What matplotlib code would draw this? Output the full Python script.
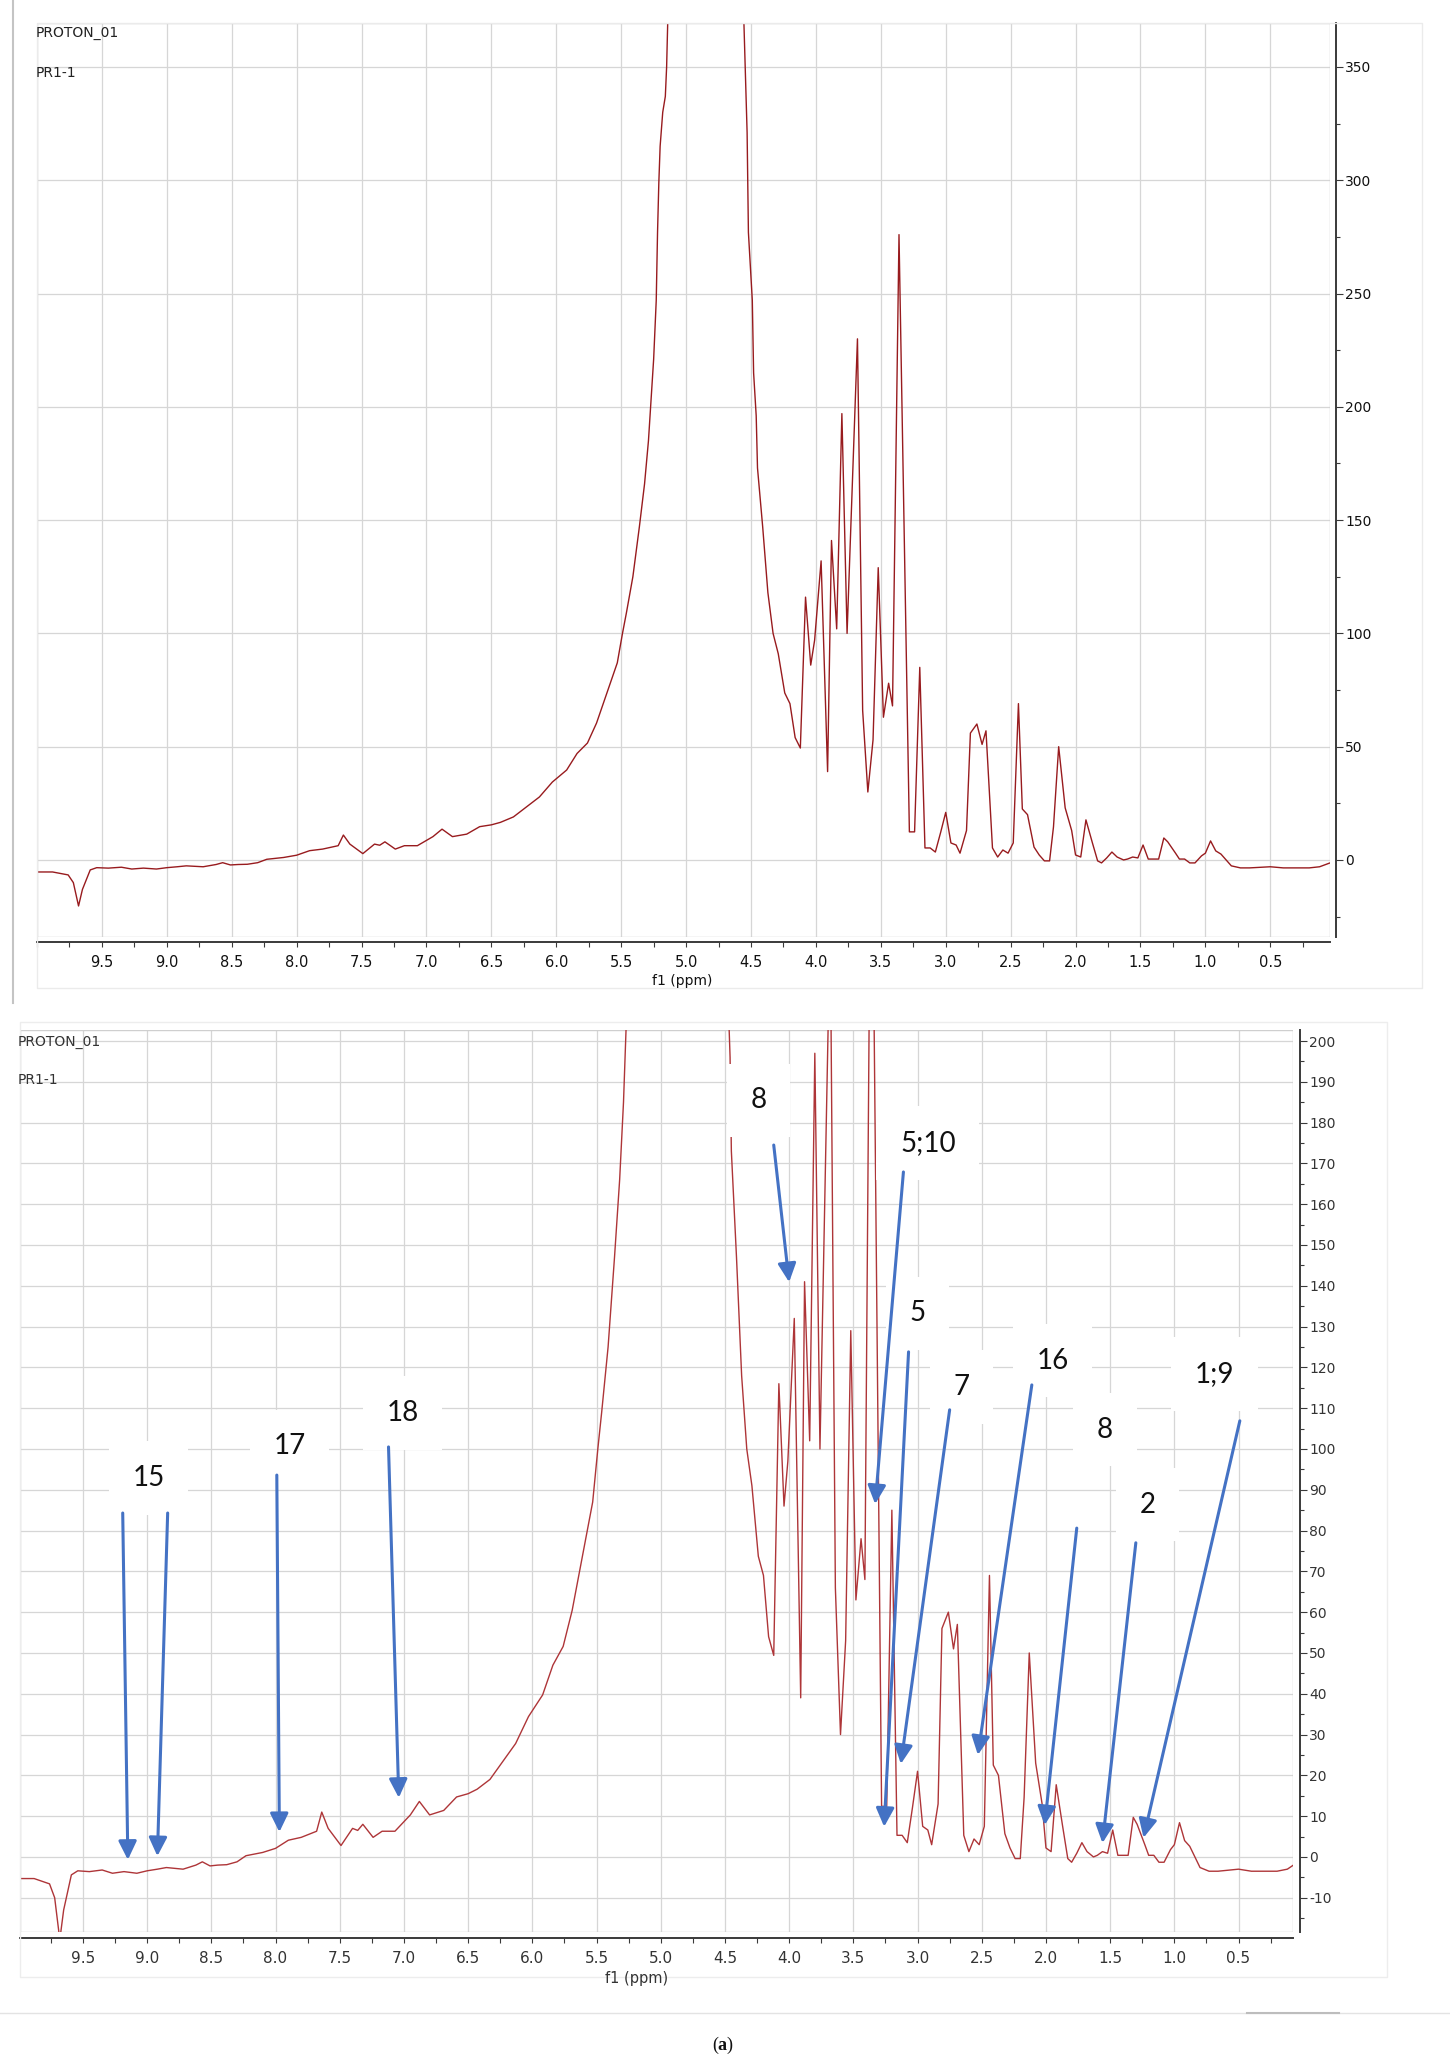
import matplotlib
matplotlib.use("Agg")
import matplotlib.pyplot as plt
from matplotlib.lines import Line2D
from matplotlib.patches import Rectangle
from matplotlib.ticker import FixedLocator, FormatStrFormatter, MultipleLocator

# 1H NMR spectrum (ppm, intensity); the water
# signal near 4.8 ppm runs far off scale in both panels.
PPM = [10.00, 9.88, 9.76, 9.72, 9.68, 9.65, 9.59, 9.54, 9.45, 9.35, 9.27, 9.18,
       9.08, 9.00, 8.92, 8.85, 8.72, 8.62, 8.57, 8.51, 8.45, 8.38, 8.30, 8.23,
       8.10, 8.00, 7.90, 7.80, 7.68, 7.64, 7.59, 7.49, 7.40, 7.36, 7.32, 7.24,
       7.17, 7.07, 6.95, 6.88, 6.80, 6.69, 6.59, 6.50, 6.43, 6.33, 6.23, 6.13,
       6.03, 5.92, 5.84, 5.76, 5.69, 5.61, 5.53, 5.49, 5.46, 5.41, 5.36, 5.32,
       5.29, 5.25, 5.23, 5.22, 5.21, 5.20, 5.18, 5.16, 5.15, 5.12, 4.85, 4.58,
       4.55, 4.53, 4.52, 4.49, 4.48, 4.46, 4.45, 4.41, 4.37, 4.33, 4.29, 4.24,
       4.20, 4.16, 4.12, 4.08, 4.04, 4.01, 3.96, 3.91, 3.88, 3.84, 3.80, 3.76,
       3.68, 3.64, 3.60, 3.56, 3.52, 3.48, 3.44, 3.41, 3.36, 3.28, 3.24, 3.20,
       3.16, 3.12, 3.08, 3.04, 3.00, 2.96, 2.92, 2.89, 2.84, 2.81, 2.76, 2.72,
       2.69, 2.64, 2.60, 2.56, 2.52, 2.48, 2.44, 2.41, 2.37, 2.32, 2.28, 2.24,
       2.20, 2.17, 2.13, 2.08, 2.03, 2.00, 1.96, 1.92, 1.87, 1.83, 1.80, 1.76,
       1.72, 1.68, 1.63, 1.60, 1.56, 1.52, 1.48, 1.44, 1.36, 1.32, 1.29, 1.23,
       1.20, 1.16, 1.12, 1.08, 1.03, 1.00, 0.96, 0.92, 0.88, 0.80, 0.73, 0.66,
       0.50, 0.40, 0.20, 0.12, 0.04]
INTENSITY = [-5.3, -5.3, -6.6, -10.0, -20.3, -13.0, -4.4, -3.4, -3.6, -3.2, -4.0, -3.6,
             -4.0, -3.4, -3.0, -2.6, -3.0, -2.0, -1.2, -2.2, -2.0, -1.9, -1.2, 0.3,
             1.1, 2.1, 4.1, 4.8, 6.3, 11.0, 7.0, 2.8, 7.0, 6.5, 8.0, 4.8,
             6.3, 6.3, 10.3, 13.6, 10.3, 11.4, 14.7, 15.5, 16.6, 19.0, 23.4, 27.8,
             34.4, 39.7, 47.0, 51.6, 60.4, 73.7, 87.0, 100.0, 109.0, 125.0, 147.0, 166.0,
             185.0, 221.0, 247.0, 277.0, 299.0, 315.0, 330.0, 337.0, 350.0, 420.0, 3000.0, 420.0,
             360.0, 321.0, 277.0, 247.0, 215.0, 196.0, 173.0, 147.0, 118.0, 100.0, 91.0, 73.7,
             69.0, 54.0, 49.4, 116.0, 86.0, 97.0, 132.0, 39.0, 141.0, 102.0, 197.0, 100.0,
             230.0, 66.0, 30.0, 53.0, 129.0, 63.0, 78.0, 68.0, 276.0, 12.4, 12.4, 85.0,
             5.3, 5.3, 3.5, 12.0, 21.0, 7.5, 6.6, 3.0, 13.0, 56.0, 60.0, 51.0,
             57.0, 5.3, 1.3, 4.4, 3.0, 7.5, 69.0, 22.5, 20.0, 5.7, 2.2, -0.4,
             -0.4, 14.6, 50.0, 23.0, 13.0, 2.2, 1.3, 17.7, 7.5, -0.4, -1.3, 0.9,
             3.5, 1.3, 0.0, 0.4, 1.3, 0.9, 6.6, 0.4, 0.4, 9.7, 8.0, 3.0,
             0.4, 0.4, -1.3, -1.3, 1.8, 3.0, 8.4, 4.0, 2.6, -2.6, -3.5, -3.5,
             -3.0, -3.5, -3.5, -3.0, -1.3]

X_TICKS = [9.5, 9.0, 8.5, 8.0, 7.5, 7.0, 6.5, 6.0, 5.5, 5.0, 4.5, 4.0, 3.5,
           3.0, 2.5, 2.0, 1.5, 1.0, 0.5]

# assignment labels on the zoomed panel (position of label centre)
LABELS = ["15", "17", "18", "8", "5;10", "5", "7", "16", "8", "2", "1;9"]
LABEL_PPM = [8.99, 7.89, 7.01, 4.24, 2.92, 3.00, 2.66, 1.95, 1.54, 1.21, 0.69]
LABEL_Y = [92.9, 100.7, 108.8, 185.5, 175.0, 133.3, 115.2, 121.6, 104.7, 86.3, 118.4]

# arrows: tail -> head, label "15" has two
ARROW_TAIL_PPM = [9.19, 8.84, 7.99, 7.12, 4.12, 3.11, 3.07, 2.75, 2.11, 1.76, 1.30, 0.49]
ARROW_TAIL_Y = [84.3, 84.3, 93.6, 100.5, 174.5, 167.9, 123.8, 109.6, 115.7, 80.6, 77.0, 106.9]
ARROW_HEAD_PPM = [9.15, 8.92, 7.97, 7.04, 4.00, 3.33, 3.26, 3.13, 2.53, 2.01, 1.56, 1.24]
ARROW_HEAD_Y = [-0.7, 0.2, 6.1, 14.5, 140.9, 86.5, 7.4, 22.8, 25.0, 7.8, 3.4, 4.7]

W, H = 1450, 2068
GRID = "#D6D6D6"
PX = 0.72  # points per pixel at dpi 100

plt.rcParams["axes.unicode_minus"] = False
plt.rcParams["mathtext.fontset"] = "custom"
plt.rcParams["mathtext.bf"] = "Liberation Serif:bold"
plt.rcParams["mathtext.rm"] = "Liberation Serif"


def px_rect(left, top, right, bottom):
    return [left / W, 1 - bottom / H, (right - left) / W, (bottom - top) / H]


def style_panel(ax, xlim, ylim, ymajor, yminor, x_out, y_out, label_color, xsize):
    ax.set_xlim(*xlim)
    ax.set_ylim(*ylim)
    ax.xaxis.set_major_locator(FixedLocator(X_TICKS))
    ax.xaxis.set_minor_locator(MultipleLocator(0.25))
    ax.xaxis.set_major_formatter(FormatStrFormatter("%.1f"))
    ax.yaxis.tick_right()
    ax.yaxis.set_major_locator(MultipleLocator(ymajor))
    ax.yaxis.set_minor_locator(MultipleLocator(yminor))
    for s in ("left", "top"):
        ax.spines[s].set_visible(False)
    ax.spines["bottom"].set_position(("outward", x_out * PX))
    ax.spines["right"].set_position(("outward", y_out * PX))
    for s in ("bottom", "right"):
        ax.spines[s].set_color("#3A3A3A")
        ax.spines[s].set_linewidth(1.4)
    ax.tick_params(axis="x", which="both", direction="out", length=5 * PX, width=0.8,
                   color="#3A3A3A", pad=6.0, labelsize=xsize, labelcolor=label_color)
    ax.tick_params(axis="y", which="major", direction="out", length=7 * PX, width=0.8,
                   color="#3A3A3A", pad=1.5, labelsize=10, labelcolor=label_color)
    ax.tick_params(axis="y", which="minor", direction="out", length=4 * PX, width=0.8,
                   color="#3A3A3A")
    ax.grid(True, which="major", color=GRID, lw=0.9)
    ax.set_axisbelow(True)
    ax.add_patch(Rectangle((0, 0), 1, 1, transform=ax.transAxes, fill=False,
                           ec="#CFCFCF", lw=1.0, zorder=1))


fig = plt.figure(figsize=(W / 100, H / 100), dpi=100)

# panel frames
fig.add_artist(Line2D([13 / W, 13 / W], [1, 1 - 1003 / H], transform=fig.transFigure,
                      color="#C4C4C4", lw=1.5))
fig.add_artist(Rectangle((37 / W, 1 - 988 / H), (1422 - 37) / W, (988 - 23) / H,
                         transform=fig.transFigure, fill=False, ec="#EBEBEB", lw=1.0))
fig.add_artist(Rectangle((20 / W, 1 - 1977 / H), (1387 - 20) / W, (1977 - 1022) / H,
                         transform=fig.transFigure, fill=False, ec="#EDEDED", lw=1.0))

# top panel: full spectrum
ax1 = fig.add_axes(px_rect(37, 23, 1330, 937))
style_panel(ax1, (10.0, 0.04), (-34.0, 369.4), 50, 25, 5, 6, "#111111", 10.5)
ax1.plot(PPM, INTENSITY, color="#981B1E", lw=1.0, zorder=2)
fig.text(36 / W, 1 - 33 / H, "PROTON_01", fontsize=10, color="#222222", va="center")
fig.text(36 / W, 1 - 73 / H, "PR1-1", fontsize=10, color="#222222", va="center")
fig.text(682 / W, 1 - 981 / H, "f1 (ppm)", fontsize=10, color="#111111",
         ha="center", va="center")

# bottom panel: vertical zoom with assignments
ax2 = fig.add_axes(px_rect(20, 1030, 1293, 1932))
style_panel(ax2, (9.99, 0.076), (-18.4, 202.7), 10, 5, 6, 7, "#333333", 11)
ax2.plot(PPM, INTENSITY, color="#AE3538", lw=1.0, zorder=2)
fig.text(18 / W, 1 - 1042 / H, "PROTON_01", fontsize=10, color="#333333", va="center")
fig.text(18 / W, 1 - 1080 / H, "PR1-1", fontsize=10, color="#333333", va="center")
fig.text(637 / W, 1 - 1979 / H, "f1 (ppm)", fontsize=10.5, color="#333333",
         ha="center", va="center")

for lab, x, y in zip(LABELS, LABEL_PPM, LABEL_Y):
    ax2.text(x, y, lab, ha="center", va="center", fontsize=20, family="Lato",
             color="#111111", zorder=4,
             bbox=dict(boxstyle="square,pad=0.85", fc="white", ec="none"))

for tx, ty, hx, hy in zip(ARROW_TAIL_PPM, ARROW_TAIL_Y, ARROW_HEAD_PPM, ARROW_HEAD_Y):
    ax2.annotate("", xy=(hx, hy), xytext=(tx, ty), zorder=5,
                 arrowprops=dict(arrowstyle="-|>,head_length=0.45,head_width=0.22",
                                 color="#4472C4", lw=2.2, mutation_scale=25,
                                 shrinkA=0, shrinkB=0))

# caption
fig.add_artist(Line2D([0, 1], [1 - 2013 / H] * 2, transform=fig.transFigure,
                      color="#E3E3E3", lw=1.0))
fig.add_artist(Line2D([1247 / W, 1339 / W], [1 - 2013 / H] * 2, transform=fig.transFigure,
                      color="#BDBDBD", lw=1.5))
fig.text(723 / W, 1 - 2045 / H, r"($\mathbf{a}$)", fontsize=13, family="Liberation Serif",
         ha="center", va="center", color="#111111")

fig.savefig("out.png", dpi=100)
plt.close(fig)
